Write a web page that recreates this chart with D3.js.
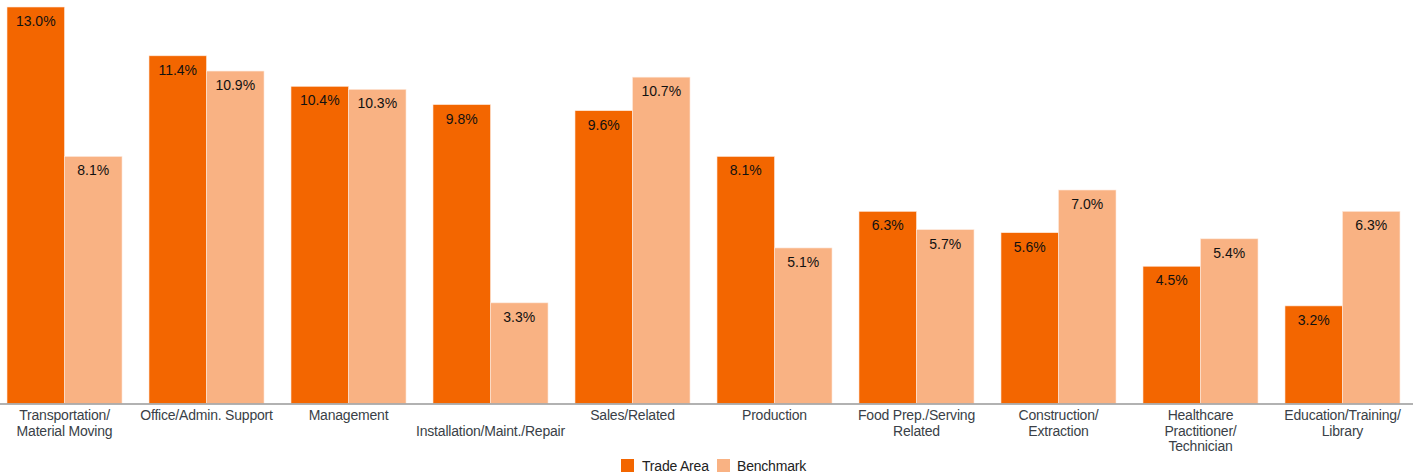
<!DOCTYPE html>
<html><head><meta charset="utf-8">
<script src="https://cdn.jsdelivr.net/npm/d3@7"></script>
<style>body{margin:0;background:#fff}svg{display:block;font-family:"Liberation Sans",Arial,sans-serif}</style>
</head><body><svg id="c" width="1413" height="476"></svg>
<script>
const categories = [
  ["Transportation/","Material Moving"],
  ["Office/Admin. Support"],
  ["Management"],
  ["","Installation/Maint./Repair"],
  ["Sales/Related"],
  ["Production"],
  ["Food Prep./Serving","Related"],
  ["Construction/","Extraction"],
  ["Healthcare","Practitioner/","Technician"],
  ["Education/Training/","Library"]
];
const tradeArea = [13.0, 11.4, 10.4, 9.8, 9.6, 8.1, 6.3, 5.6, 4.5, 3.2];
const benchmark = [8.1, 10.9, 10.3, 3.3, 10.7, 5.1, 5.7, 7.0, 5.4, 6.3];
const seriesNames = ["Trade Area", "Benchmark"];
const colors = ["#f36600", "#f9b283"];

const svg = d3.select("#c");
const baseY = 403.5;
const x0 = d3.scaleBand().domain(d3.range(categories.length)).range([7, 1400]).paddingInner(0.19).paddingOuter(0);
const x1 = d3.scaleBand().domain([0,1]).range([0, x0.bandwidth()]);
const y = d3.scaleLinear().domain([0, 13.0]).range([baseY, 7]);

const groups = svg.selectAll("g.grp").data(categories.map((c,i)=>i)).join("g")
  .attr("transform", i => `translate(${x0(i)},0)`);

groups.each(function(i){
  const g = d3.select(this);
  const vals = [tradeArea[i], benchmark[i]];
  vals.forEach((v,s)=>{
    g.append("rect").attr("x", x1(s)).attr("y", y(v)).attr("width", x1.bandwidth()).attr("height", baseY - y(v))
      .attr("fill", colors[s]).attr("stroke", "#fde9dc").attr("stroke-width", 0.6);
    g.append("text").attr("x", x1(s) + x1.bandwidth()/2).attr("y", y(v) + 19)
      .attr("text-anchor","middle").attr("font-size", 14).attr("fill","#111").text(v.toFixed(1) + "%");
  });
});

// axis
const axis = d3.axisBottom(x0).tickSize(0).tickFormat("");
const ag = svg.append("g").attr("transform", `translate(0,${baseY})`).call(axis);
ag.select(".domain").attr("d", "M0,0.5H1413").attr("stroke", "#999").attr("stroke-width", 1.5);

categories.forEach((lines,i)=>{
  const t = svg.append("text").attr("x", x0(i) + x0.bandwidth()/2).attr("y", 420)
    .attr("text-anchor","middle").attr("font-size", 14).attr("letter-spacing", -0.2).attr("fill","#3a3f47");
  lines.forEach((l,k)=> t.append("tspan").attr("x", x0(i) + x0.bandwidth()/2).attr("y", 420 + k*15.5).text(l));
});

// legend
const leg = svg.append("g");
const legItems = [{x:621, tx:642},{x:717, tx:737}];
seriesNames.forEach((n,s)=>{
  leg.append("rect").attr("x", legItems[s].x).attr("y", 459).attr("width", 13).attr("height", 13).attr("fill", colors[s]);
  leg.append("text").attr("x", legItems[s].tx).attr("y", 471).attr("font-size", 14).attr("letter-spacing", -0.2).attr("fill","#222").text(n);
});
</script></body></html>
